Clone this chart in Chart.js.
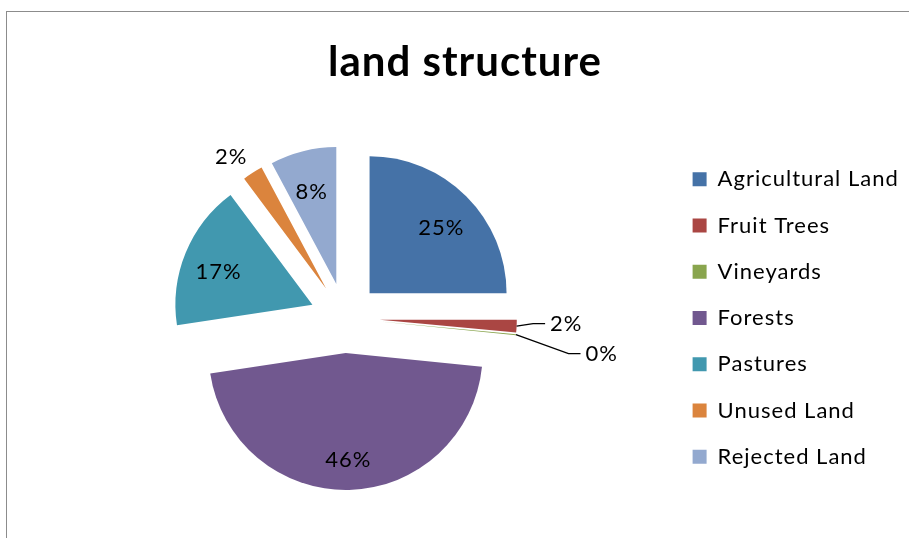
<!DOCTYPE html>
<html>
<head>
<meta charset="utf-8">
<script src="https://cdn.jsdelivr.net/npm/chart.js@4.4.1/dist/chart.umd.min.js"></script>
<style>
  html, body { margin: 0; padding: 0; background: #fff; overflow: hidden; }
  #wrap { position: relative; width: 909px; height: 538px; }
  #frame { position: absolute; left: 6px; top: 11px; width: 1000px; height: 1000px; border: 1px solid #8c8c8c; }
  #chart { position: absolute; left: 0; top: 0; }
</style>
</head>
<body>
<div id="wrap">
  <div id="frame"></div>
  <canvas id="chart" width="909" height="538"></canvas>
</div>
<script>
// Land use shares (percent)
const categories = ['Agricultural Land', 'Fruit Trees', 'Vineyards', 'Forests', 'Pastures', 'Unused Land', 'Rejected Land'];
const shares = [25.0, 1.5, 0.1, 46.0, 17.2, 2.4, 7.8];
const colors = ['#4572A7', '#AA4643', '#89A54E', '#71588F', '#4198AF', '#DB843D', '#93A9CF'];

const EXPLODE = 35;   // every slice pulled out from the centre
const FONT = 'Lato';

// the original text is drawn slightly spaced out
const spacedText = {
  id: 'spacedText',
  beforeLayout(chart) { chart.ctx.letterSpacing = '1px'; },
  beforeDraw(chart) { chart.ctx.letterSpacing = '1px'; }
};

// Draw the arcs ourselves, each one shifted along its middle angle
const explodeSlices = {
  id: 'explodeSlices',
  beforeDatasetDraw(chart, args) {
    const ctx = chart.ctx;
    args.meta.data.forEach(arc => {
      const mid = (arc.startAngle + arc.endAngle) / 2;
      ctx.save();
      ctx.translate(Math.cos(mid) * EXPLODE, Math.sin(mid) * EXPLODE);
      arc.draw(ctx, chart.chartArea);
      ctx.restore();
    });
    return false;
  }
};

// Percent labels, small slices get a callout
const pctLabels = {
  id: 'pctLabels',
  afterDatasetsDraw(chart) {
    const ctx = chart.ctx;
    const arcs = chart.getDatasetMeta(0).data;
    const total = shares.reduce((a, b) => a + b, 0);
    let lastRightY = -Infinity;
    ctx.save();
    ctx.font = '22px ' + FONT;
    ctx.fillStyle = '#000';
    ctx.strokeStyle = '#000';
    ctx.lineWidth = 1.3;
    ctx.textBaseline = 'middle';
    arcs.forEach((arc, i) => {
      const frac = shares[i] / total;
      const text = Math.round(frac * 100) + '%';
      const mid = (arc.startAngle + arc.endAngle) / 2;
      const cos = Math.cos(mid), sin = Math.sin(mid);
      const ax = arc.x + cos * EXPLODE, ay = arc.y + sin * EXPLODE;
      const r = arc.outerRadius;
      if (frac >= 0.05) {
        ctx.textAlign = 'center';
        ctx.fillText(text, ax + cos * r * 0.74, ay + sin * r * 0.74 + 6);
        return;
      }
      const ox = ax + cos * r, oy = ay + sin * r;
      if (cos > 0) {
        // right side: leader line, stack labels so they don't overlap
        let ly = oy - 2.5;
        if (ly < lastRightY + 30) ly = lastRightY + 30;
        lastRightY = ly;
        const ex = ox + 11 + 2.2 * Math.abs(ly - oy);
        ctx.beginPath();
        ctx.moveTo(ox, oy);
        ctx.lineTo(ex, ly);
        ctx.lineTo(ex + 12, ly);
        ctx.stroke();
        ctx.textAlign = 'left';
        ctx.fillText(text, ex + 17, ly);
      } else {
        const px = ax + cos * (r + 10), py = ay + sin * (r + 10);
        ctx.textAlign = 'right';
        ctx.fillText(text, px, py - 7);
      }
    });
    ctx.restore();
  }
};

new Chart(document.getElementById('chart'), {
  type: 'pie',
  data: {
    labels: categories,
    datasets: [{
      data: shares,
      backgroundColor: colors,
      borderWidth: 0,
      radius: 137
    }]
  },
  options: {
    responsive: false,
    maintainAspectRatio: false,
    animation: false,
    layout: { padding: { left: 21.25, right: 0.25, top: 0, bottom: 0 } },
    plugins: {
      title: {
        display: true,
        text: 'land structure',
        color: '#000',
        font: { family: FONT, size: 42, weight: 'bold', lineHeight: 1.2 },
        padding: { top: 37, bottom: 10.6 }
      },
      legend: {
        position: 'right',
        fullSize: false,
        labels: {
          boxWidth: 14,
          boxHeight: 14,
          padding: 24.25,
          color: '#000',
          font: { family: FONT, size: 22 }
        }
      },
      tooltip: { enabled: false }
    }
  },
  plugins: [spacedText, explodeSlices, pctLabels]
});
</script>
</body>
</html>
